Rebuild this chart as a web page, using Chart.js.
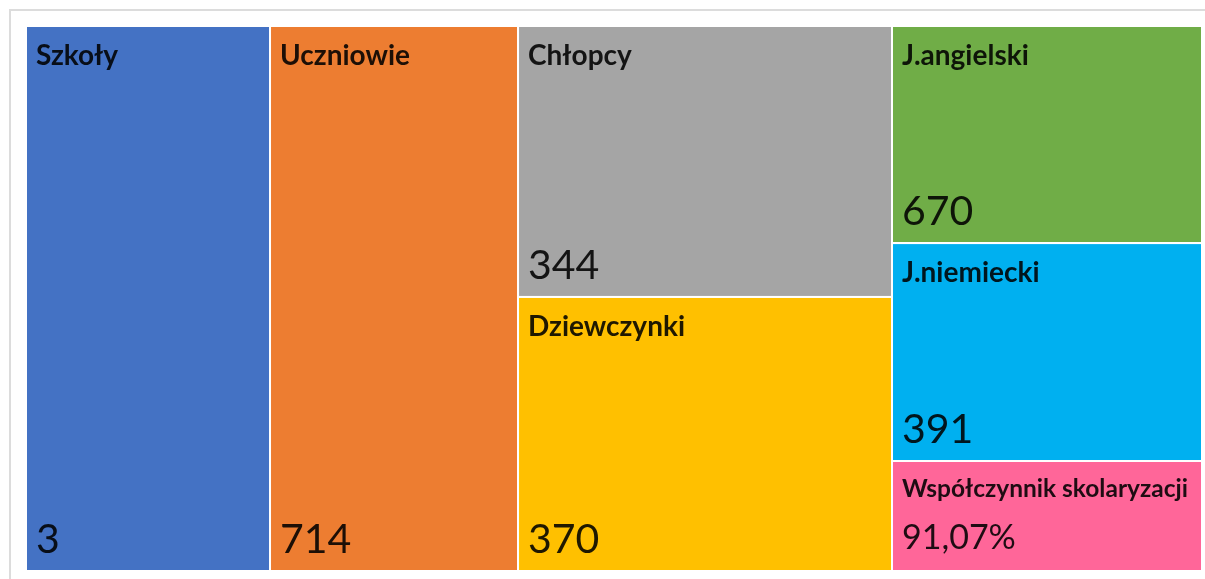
<!DOCTYPE html>
<html>
<head>
<meta charset="utf-8">
<script src="https://cdn.jsdelivr.net/npm/chart.js@4"></script>
<style>
  html, body { margin: 0; padding: 0; background: #fff; }
  #wrap { width: 1205px; height: 579px; }
</style>
</head>
<body>
<div id="wrap"><canvas id="mapa"></canvas></div>
<script>
// Kategorie i wartości
const categories = ['Szkoły', 'Uczniowie', 'Chłopcy', 'Dziewczynki', 'J.angielski', 'J.niemiecki', 'Współczynnik skolaryzacji'];
const values = [3, 714, 344, 370, 670, 391, 91.07];
const valueLabels = ['3', '714', '344', '370', '670', '391', '91,07%'];
// wagi kafelków (miara wielkości) i kolumna, do której należy kafelek
const weights = [20.75, 21.09, 15.81, 15.99, 10.50, 10.54, 5.32];
const groups = [0, 1, 2, 2, 3, 3, 3];
const colors = ['#4472C4', '#ED7D31', '#A5A5A5', '#FFC000', '#70AD47', '#00B0F0', '#FF6699'];

// układ slice-and-dice: kolumny wg sumy wag, w kolumnie podział pionowy
function layoutCells() {
  const cols = [];
  groups.forEach((g, i) => {
    cols[g] = (cols[g] || 0) + weights[i];
  });
  const cells = [];
  let x = 0;
  cols.forEach((colSum, g) => {
    let y = 0;
    groups.forEach((gg, i) => {
      if (gg !== g) return;
      const h = weights[i] / colSum;
      cells[i] = { x0: x, x1: x + colSum, y0: y, y1: y + h };
      y += h;
    });
    x += colSum;
  });
  return { cells, total: x };
}

const layout = layoutCells();

const treemapPlugin = {
  id: 'kafelki',
  beforeDraw(chart) {
    const ctx = chart.ctx;
    // ramka obszaru wykresu
    ctx.save();
    ctx.strokeStyle = '#dcdcdc';
    ctx.lineWidth = 2;
    ctx.beginPath();
    ctx.moveTo(10, chart.height + 5);
    ctx.lineTo(10, 10);
    ctx.lineTo(chart.width + 5, 10);
    ctx.stroke();
    ctx.restore();
  },
  afterDatasetsDraw(chart) {
    const ctx = chart.ctx;
    const xs = chart.scales.x, ys = chart.scales.y;
    ctx.save();
    layout.cells.forEach((c, i) => {
      const left = xs.getPixelForValue(c.x0);
      const right = xs.getPixelForValue(c.x1);
      const top = ys.getPixelForValue(c.y0);
      const bottom = ys.getPixelForValue(c.y1);
      const w = right - left, h = bottom - top;

      ctx.fillStyle = colors[i];
      ctx.fillRect(left, top, w, h);
      ctx.strokeStyle = '#ffffff';
      ctx.lineWidth = 2;
      ctx.strokeRect(left, top, w, h);

      // zmniejszenie czcionki gdy etykieta nie mieści się w kafelku
      ctx.font = 'bold 28px Lato';
      const lw = ctx.measureText(categories[i]).width;
      const scale = Math.min(1, (w - 24) / lw);
      const small = scale < 1;

      ctx.fillStyle = 'rgba(0,0,0,0.88)';
      ctx.textAlign = 'left';
      ctx.textBaseline = 'alphabetic';
      ctx.font = 'bold ' + (28 * scale).toFixed(1) + 'px Lato';
      ctx.fillText(categories[i], left + 10, top + (small ? 36 : 39));

      ctx.font = (small ? 34 : 41) + 'px Lato';
      ctx.fillText(valueLabels[i], left + 10, bottom - (small ? 22 : 18));
    });
    ctx.restore();
  }
};

const config = {
  type: 'scatter',
  data: {
    datasets: [{
      label: 'Kafelki',
      data: values.map((v, i) => ({
        x: (layout.cells[i].x0 + layout.cells[i].x1) / 2,
        y: (layout.cells[i].y0 + layout.cells[i].y1) / 2,
        v: v
      })),
      pointRadius: 0,
      pointHoverRadius: 0
    }]
  },
  options: {
    responsive: true,
    maintainAspectRatio: false,
    animation: false,
    layout: {
      padding: { left: 26, top: 26, right: 3, bottom: 8 }
    },
    plugins: {
      legend: { display: false },
      tooltip: { enabled: false }
    },
    scales: {
      x: { type: 'linear', min: 0, max: layout.total, display: false },
      y: { type: 'linear', min: 0, max: 1, reverse: true, display: false }
    }
  },
  plugins: [treemapPlugin]
};

new Chart(document.getElementById('mapa').getContext('2d'), config);
</script>
</body>
</html>
